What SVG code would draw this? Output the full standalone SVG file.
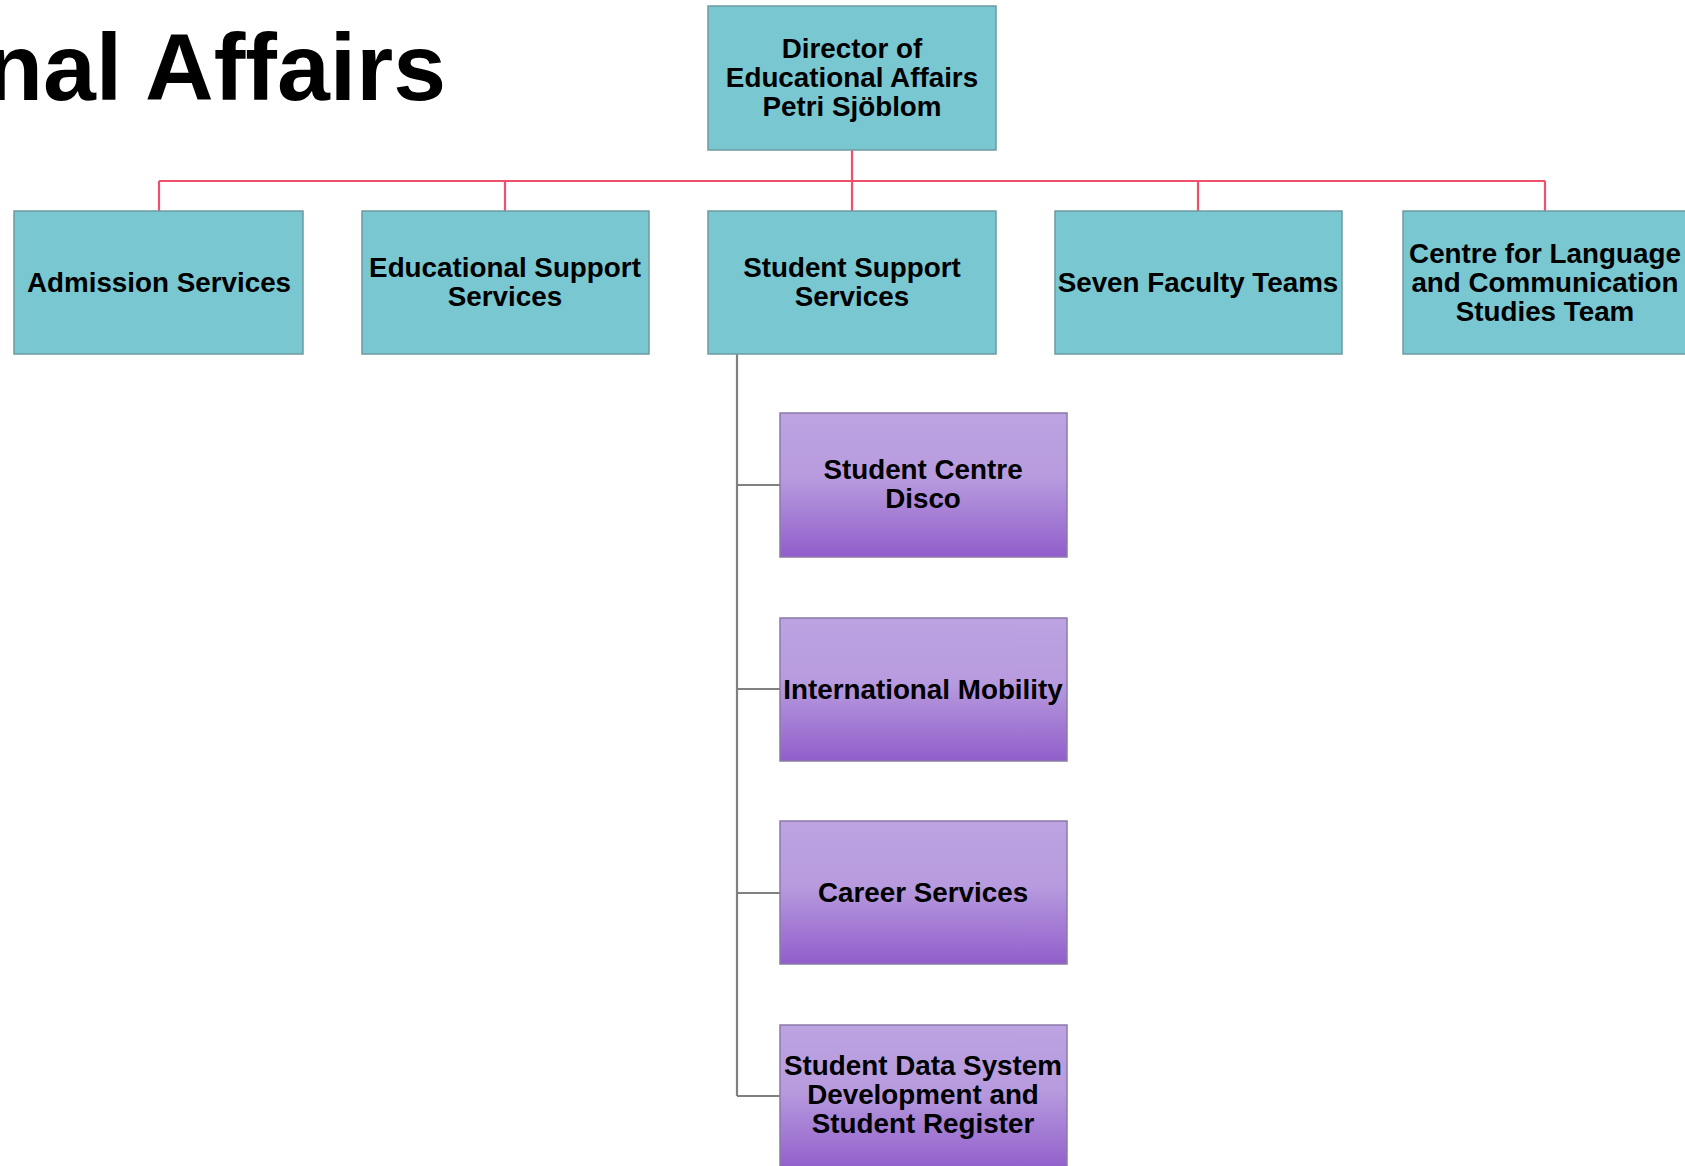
<svg xmlns="http://www.w3.org/2000/svg" width="1685" height="1166" viewBox="0 0 1685 1166">
<defs>
<linearGradient id="purp" x1="0" y1="0" x2="0" y2="1">
<stop offset="0" stop-color="#BDA3E2"/>
<stop offset="0.45" stop-color="#B79BDE"/>
<stop offset="1" stop-color="#915ECB"/>
</linearGradient>
<style>
.teal{fill:#79C7D0;stroke:#6F9AA0;stroke-width:1.5}
.purp{fill:url(#purp);stroke:#8C7AA8;stroke-width:1.5}
.lbl{font-family:"Liberation Sans",Arial,sans-serif;font-weight:bold;font-size:27.8px;fill:#000;text-anchor:middle}
.red{stroke:#F0506A;stroke-width:2.2;fill:none}
.gray{stroke:#808080;stroke-width:2.2;fill:none}
</style>
</defs>
<rect width="1685" height="1166" fill="#fff"/>
<text x="446" y="100" font-family="'Liberation Sans',Arial,sans-serif" font-weight="bold" font-size="95" text-anchor="end" fill="#000">nal Affairs</text>
<g id="connectors">
<path class="red" d="M852 150V211M159 181H1545M159 181V211M505 181V211M1198 181V211M1545 181V211"/>
<path class="gray" d="M737 354V1096M737 485H780M737 689H780M737 893H780M737 1096H780"/>
</g>
<g id="director">
<rect class="teal" x="708" y="6" width="288" height="144"/>
<text class="lbl" x="852" y="58">Director of</text>
<text class="lbl" x="852" y="87">Educational Affairs</text>
<text class="lbl" x="852" y="116">Petri Sjöblom</text>
</g>
<g id="admission">
<rect class="teal" x="14" y="211" width="289" height="143"/>
<text class="lbl" x="159" y="292">Admission Services</text>
</g>
<g id="educational-support">
<rect class="teal" x="362" y="211" width="287" height="143"/>
<text class="lbl" x="505" y="277">Educational Support</text>
<text class="lbl" x="505" y="306">Services</text>
</g>
<g id="student-support">
<rect class="teal" x="708" y="211" width="288" height="143"/>
<text class="lbl" x="852" y="277">Student Support</text>
<text class="lbl" x="852" y="306">Services</text>
</g>
<g id="faculty-teams">
<rect class="teal" x="1055" y="211" width="287" height="143"/>
<text class="lbl" x="1198" y="292">Seven Faculty Teams</text>
</g>
<g id="language-centre">
<rect class="teal" x="1403" y="211" width="290" height="143"/>
<text class="lbl" x="1545" y="263">Centre for Language</text>
<text class="lbl" x="1545" y="292">and Communication</text>
<text class="lbl" x="1545" y="321">Studies Team</text>
</g>
<g id="student-centre">
<rect class="purp" x="780" y="413" width="287" height="144"/>
<text class="lbl" x="923" y="479">Student Centre</text>
<text class="lbl" x="923" y="508">Disco</text>
</g>
<g id="international-mobility">
<rect class="purp" x="780" y="618" width="287" height="143"/>
<text class="lbl" x="923" y="699">International Mobility</text>
</g>
<g id="career-services">
<rect class="purp" x="780" y="821" width="287" height="143"/>
<text class="lbl" x="923" y="902">Career Services</text>
</g>
<g id="student-data">
<rect class="purp" x="780" y="1025" width="287" height="145"/>
<text class="lbl" x="923" y="1075">Student Data System</text>
<text class="lbl" x="923" y="1104">Development and</text>
<text class="lbl" x="923" y="1133">Student Register</text>
</g>
</svg>
